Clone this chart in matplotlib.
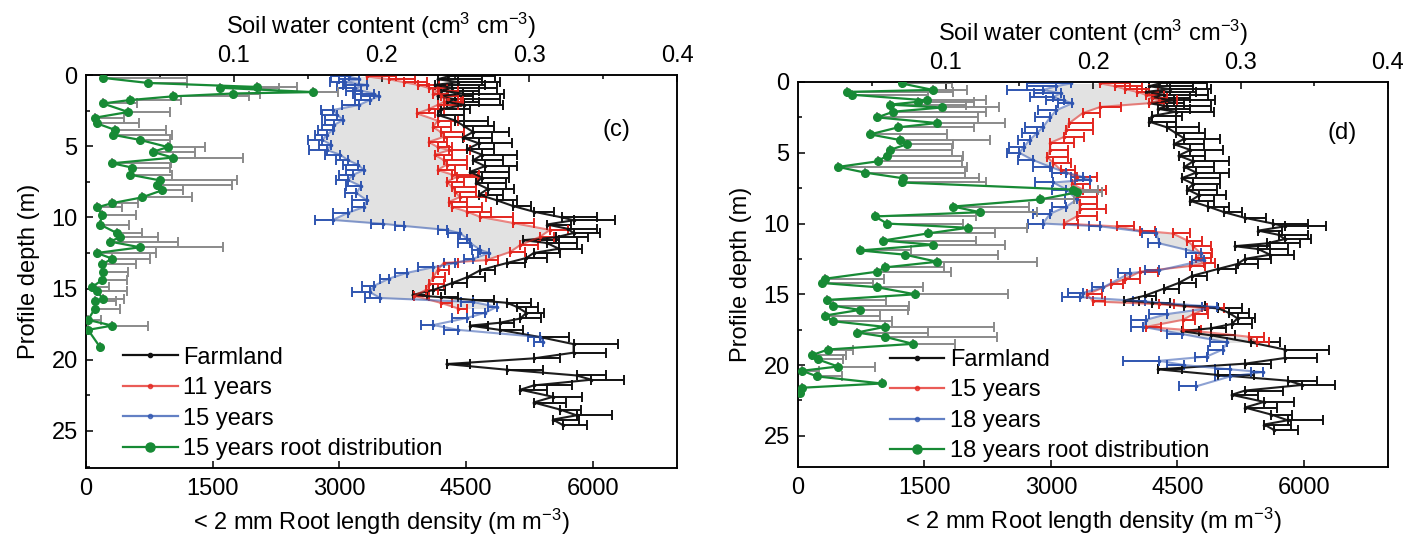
import numpy as np
import matplotlib
matplotlib.use("Agg")
import matplotlib.pyplot as plt
from matplotlib.lines import Line2D
from matplotlib.ticker import MultipleLocator, FixedLocator

plt.rcParams["font.family"] = ["Liberation Sans", "DejaVu Sans"]
plt.rcParams["mathtext.default"] = "regular"
FS = 17

# ---------------- Farmland soil water content (shared by both panels) ----------------
farm_depth = [0.1, 0.3, 0.5, 0.7, 0.9, 1.1, 1.3, 1.5, 1.7, 1.9, 2.1, 2.4,
              2.8, 3.2, 3.6, 4.0, 4.4, 4.8, 5.2, 5.6, 6.0, 6.4, 6.8, 7.2, 7.6, 8.0,
              8.4, 8.8, 9.2, 9.6, 10.0, 10.2, 10.5, 10.8, 11.1, 11.4, 11.6, 11.8, 12.2,
              12.5, 12.85, 13.2, 13.7, 14.2, 14.6, 15.1, 15.45, 15.6, 15.8, 16.0, 16.3,
              16.7, 17.1, 17.4, 17.6, 17.9, 18.4, 18.9, 19.5, 19.9, 20.3, 20.7, 21.1,
              21.4, 21.8, 22.1, 22.6, 23.0, 23.5, 23.9, 24.2, 24.6]
farm_swc = [0.245, 0.238, 0.252, 0.236, 0.248, 0.240, 0.255, 0.238, 0.250, 0.244, 0.256, 0.240,
            0.238, 0.250, 0.256, 0.262, 0.255, 0.266, 0.258, 0.268, 0.262, 0.270, 0.260, 0.268,
            0.264, 0.272, 0.266, 0.278, 0.289, 0.303, 0.322, 0.330, 0.312, 0.326, 0.330, 0.318,
            0.296, 0.312, 0.320, 0.303, 0.298, 0.285, 0.267, 0.258, 0.248, 0.235, 0.221, 0.240,
            0.262, 0.285, 0.292, 0.298, 0.294, 0.280, 0.260, 0.280, 0.307, 0.330, 0.330, 0.303,
            0.244, 0.285, 0.332, 0.342, 0.303, 0.294, 0.316, 0.303, 0.321, 0.332, 0.316, 0.323]
farm_err = [0.032, 0.030, 0.028, 0.034, 0.030, 0.026, 0.028, 0.024, 0.030, 0.022, 0.026, 0.020,
            0.018, 0.022, 0.020, 0.024, 0.020, 0.022, 0.018, 0.024, 0.020, 0.022, 0.026, 0.018,
            0.020, 0.018, 0.016, 0.014, 0.012, 0.014, 0.024, 0.028, 0.016, 0.020, 0.018, 0.022,
            0.024, 0.020, 0.016, 0.018, 0.014, 0.012, 0.010, 0.012, 0.010, 0.008, 0.010, 0.012,
            0.014, 0.016, 0.014, 0.012, 0.014, 0.010, 0.012, 0.016, 0.020, 0.030, 0.022, 0.018,
            0.016, 0.024, 0.020, 0.022, 0.026, 0.018, 0.020, 0.022, 0.014, 0.024, 0.018, 0.016]

# ---------------- Panel (c): 11-year and 15-year stands ----------------
c_red_depth = [0.1, 0.3, 0.5, 0.7, 0.9, 1.1, 1.3, 1.5, 1.7, 1.9, 2.1, 2.4, 2.7, 3.2, 3.65,
               4.0, 4.35, 4.7, 5.06, 5.27, 5.6, 5.97, 6.3, 6.67, 7.0, 7.16, 7.5, 7.87, 8.2,
               8.57, 8.9, 9.27, 9.6, 9.97, 10.39, 10.88, 11.38, 11.94, 12.43, 13.0, 13.2,
               13.7, 14.2, 14.7, 15.1, 15.5, 16.0, 16.4]
c_red_swc = [0.190, 0.205, 0.215, 0.225, 0.232, 0.238, 0.235, 0.240, 0.245, 0.242, 0.238,
             0.232, 0.224, 0.238, 0.235, 0.240, 0.242, 0.232, 0.238, 0.246, 0.236, 0.242,
             0.244, 0.238, 0.248, 0.251, 0.244, 0.248, 0.250, 0.253, 0.246, 0.248, 0.258,
             0.267, 0.289, 0.314, 0.307, 0.294, 0.287, 0.271, 0.242, 0.238, 0.235, 0.232,
             0.230, 0.222, 0.240, 0.252]
c_red_err = [0.020, 0.018, 0.016, 0.014, 0.012, 0.014, 0.010, 0.012, 0.010, 0.012, 0.014,
             0.010, 0.012, 0.014, 0.012, 0.016, 0.014, 0.012, 0.010, 0.014, 0.012, 0.016,
             0.014, 0.012, 0.018, 0.014, 0.012, 0.016, 0.014, 0.018, 0.012, 0.020, 0.016,
             0.022, 0.014, 0.012, 0.010, 0.012, 0.010, 0.008, 0.010, 0.008, 0.008, 0.010,
             0.008, 0.010, 0.008, 0.006]

c_blue_depth = [0.1, 0.3, 0.5, 0.7, 0.9, 1.1, 1.3, 1.5, 1.76, 2.1, 2.46, 2.8, 3.16, 3.5,
                3.86, 4.2, 4.56, 4.9, 5.27, 5.6, 5.97, 6.3, 6.67, 7.0, 7.37, 7.8, 8.29, 8.8,
                9.27, 9.69, 10.18, 10.45, 10.6, 10.88, 11.1, 11.5, 11.8, 12.29, 12.5, 12.9,
                13.2, 13.5, 13.9, 14.3, 14.8, 15.24, 15.66, 15.94, 16.29, 16.7, 17.06,
                17.56, 17.9, 18.4, 18.75]
c_blue_swc = [0.178, 0.185, 0.175, 0.190, 0.182, 0.186, 0.195, 0.198, 0.192, 0.185, 0.167,
              0.170, 0.174, 0.168, 0.167, 0.163, 0.160, 0.166, 0.163, 0.172, 0.177, 0.184,
              0.188, 0.181, 0.177, 0.186, 0.183, 0.190, 0.188, 0.177, 0.167, 0.201, 0.215,
              0.244, 0.253, 0.258, 0.260, 0.267, 0.273, 0.262, 0.250, 0.235, 0.217, 0.205,
              0.195, 0.192, 0.199, 0.262, 0.278, 0.270, 0.258, 0.235, 0.252, 0.307, 0.309]
c_blue_err = [0.012, 0.014, 0.010, 0.016, 0.012, 0.010, 0.014, 0.012, 0.010, 0.012, 0.008,
              0.010, 0.012, 0.008, 0.010, 0.008, 0.010, 0.008, 0.012, 0.010, 0.008, 0.010,
              0.012, 0.010, 0.008, 0.010, 0.008, 0.010, 0.008, 0.010, 0.012, 0.008, 0.006,
              0.006, 0.008, 0.006, 0.008, 0.006, 0.008, 0.006, 0.008, 0.010, 0.008, 0.006,
              0.008, 0.012, 0.010, 0.008, 0.006, 0.008, 0.010, 0.008, 0.010, 0.008, 0.006]

c_root_depth = [0.2, 0.56, 0.84, 0.9, 1.2, 1.3, 1.5, 1.76, 2.0, 2.6, 3.0, 3.4, 3.86, 4.2,
                4.56, 5.06, 5.4, 5.8, 6.2, 6.5, 7.0, 7.4, 7.7, 8.1, 8.6, 9.0, 9.3, 9.8, 10.5,
                11.1, 11.4, 11.7, 12.1, 12.5, 12.9, 13.3, 13.8, 14.4, 14.9, 15.2, 15.7, 15.9,
                16.4, 17.2, 17.6, 17.9, 19.1]
c_root_rld = [200, 735, 2025, 1590, 2690, 1740, 1030, 520, 200, 500, 105, 130, 345, 320,
              640, 970, 790, 1030, 310, 545, 520, 875, 840, 900, 660, 310, 130, 190, 165,
              365, 400, 285, 640, 130, 310, 190, 200, 190, 70, 130, 200, 105, 105, 25, 310,
              25, 165]
c_root_err = [1000, 460, 480, 700, 300, 320, 900, 600, 400, 500, 350, 500, 600, 700, 350,
              440, 500, 830, 700, 450, 500, 910, 890, 250, 600, 300, 300, 400, 350, 300,
              450, 800, 985, 700, 450, 400, 300, 300, 200, 350, 250, 250, 300, 150, 430,
              0, 0]

# ---------------- Panel (d): 15-year and 18-year stands ----------------
d_red_depth = [0.1, 0.3, 0.5, 0.7, 0.9, 1.1, 1.3, 1.5, 1.76, 2.2, 2.9, 3.4, 3.9, 4.3, 4.8,
               5.3, 5.7, 6.2, 6.7, 7.2, 7.6, 8.1, 8.6, 9.0, 9.5, 10.0, 10.2, 10.5, 10.7,
               11.2, 11.6, 12.1, 12.4, 12.8, 13.0, 13.4, 13.9, 14.3, 15.0, 15.5, 15.7, 16.0,
               16.4, 16.8, 17.3, 17.5, 18.0, 18.4]
d_red_swc = [0.205, 0.215, 0.222, 0.230, 0.236, 0.240, 0.245, 0.238, 0.205, 0.193, 0.184,
             0.182, 0.180, 0.171, 0.171, 0.169, 0.173, 0.178, 0.189, 0.186, 0.193, 0.189,
             0.191, 0.191, 0.189, 0.180, 0.216, 0.232, 0.254, 0.264, 0.268, 0.273, 0.270,
             0.275, 0.266, 0.232, 0.222, 0.212, 0.196, 0.200, 0.245, 0.277, 0.268, 0.261,
             0.236, 0.261, 0.306, 0.311]
d_red_err = [0.020, 0.018, 0.016, 0.014, 0.012, 0.010, 0.012, 0.010, 0.014, 0.012, 0.016,
             0.018, 0.014, 0.016, 0.012, 0.014, 0.012, 0.010, 0.014, 0.012, 0.016, 0.014,
             0.012, 0.018, 0.014, 0.010, 0.012, 0.010, 0.012, 0.010, 0.012, 0.008, 0.010,
             0.008, 0.010, 0.012, 0.010, 0.008, 0.010, 0.008, 0.010, 0.012, 0.010, 0.008,
             0.010, 0.012, 0.010, 0.008]

d_blue_depth = [0.1, 0.3, 0.56, 0.8, 1.06, 1.3, 1.5, 2.0, 2.5, 3.2, 3.6, 4.1, 4.6, 5.0, 5.5,
                6.0, 6.4, 6.7, 6.9, 7.1, 7.6, 8.3, 8.8, 9.3, 10.0, 10.2, 10.7, 11.4, 12.1,
                12.6, 13.3, 13.5, 14.5, 14.9, 15.2, 15.5, 15.9, 16.4, 16.8, 17.3, 17.8, 18.4,
                18.9, 19.4, 19.7, 20.0, 20.3, 20.5, 20.8, 21.5]
d_blue_swc = [0.185, 0.175, 0.166, 0.178, 0.173, 0.180, 0.186, 0.175, 0.171, 0.166, 0.162,
              0.157, 0.153, 0.150, 0.159, 0.171, 0.182, 0.193, 0.198, 0.173, 0.182, 0.189,
              0.182, 0.171, 0.166, 0.205, 0.243, 0.245, 0.273, 0.275, 0.245, 0.225, 0.207,
              0.193, 0.191, 0.235, 0.284, 0.250, 0.236, 0.234, 0.260, 0.291, 0.288, 0.277,
              0.245, 0.262, 0.293, 0.315, 0.293, 0.270]
d_blue_err = [0.030, 0.020, 0.024, 0.018, 0.016, 0.012, 0.010, 0.012, 0.010, 0.012, 0.010,
              0.008, 0.010, 0.008, 0.010, 0.012, 0.010, 0.008, 0.010, 0.012, 0.010, 0.008,
              0.010, 0.012, 0.010, 0.008, 0.010, 0.008, 0.010, 0.008, 0.010, 0.008, 0.008,
              0.010, 0.012, 0.008, 0.010, 0.012, 0.010, 0.008, 0.010, 0.012, 0.010, 0.008,
              0.025, 0.012, 0.010, 0.008, 0.010, 0.012]

d_root_depth = [0.1, 0.56, 0.7, 0.9, 1.3, 1.4, 1.6, 1.8, 2.1, 2.5, 2.9, 3.2, 3.7, 4.1, 4.4,
                4.8, 5.2, 5.6, 6.0, 6.4, 6.8, 7.1, 7.6, 7.8, 8.3, 8.8, 9.2, 9.5, 10.0, 10.3,
                10.7, 11.2, 11.5, 11.9, 12.2, 12.7, 13.1, 13.4, 13.9, 14.2, 14.5, 15.0, 15.4,
                15.8, 16.1, 16.5, 16.9, 17.3, 17.7, 18.0, 18.5, 18.9, 19.3, 19.6, 20.1, 20.4,
                20.8, 21.3, 21.6, 22.0]
d_root_rld = [1230, 1600, 580, 640, 1530, 1420, 1090, 1710, 1130, 940, 1650, 1190, 855, 1210,
              1290, 1090, 1055, 950, 475, 795, 1245, 1230, 3260, 3310, 2870, 1840, 2160, 915,
              1055, 2015, 1540, 1010, 1600, 735, 1270, 1650, 1030, 940, 320, 285, 940, 1390,
              345, 415, 735, 320, 415, 1030, 700, 1030, 1365, 355, 165, 235, 475, 50, 225,
              995, 50, 25]
d_root_err = [600, 400, 1260, 900, 700, 670, 900, 670, 1100, 1190, 800, 900, 915, 1070, 545,
              740, 900, 1000, 1530, 1190, 900, 1000, 300, 300, 400, 900, 680, 1200, 900, 700,
              800, 1100, 850, 600, 1100, 1190, 700, 870, 700, 600, 545, 1100, 700, 900, 570,
              650, 700, 1290, 840, 1330, 500, 300, 400, 300, 440, 200, 300, 0, 0, 0]

depth_ticks = [0, 5, 10, 15, 20, 25]
rld_ticks = [0, 1500, 3000, 4500, 6000]
swc_ticks = [0.1, 0.2, 0.3, 0.4]

BLACK = "#111111"
RED = "#e3261f"
BLUE = "#2f55b0"
GREEN = "#178a35"
GREY_BAR = "#8a8a8a"
FILL = "#e2e2e2"

fig = plt.figure(figsize=(14.06, 5.42), dpi=100)


def swc_series(ax, depth, swc, err, color, side, alpha_line):
    depth = np.asarray(depth)
    swc = np.asarray(swc)
    err = np.asarray(err)
    zeros = np.zeros_like(err)
    xerr = [zeros, err] if side == "right" else [err, zeros]
    ax.errorbar(swc, depth, xerr=xerr, fmt="none", ecolor=color, elinewidth=1.4,
                capsize=3.5, capthick=1.4, zorder=3)
    ax.plot(swc, depth, "-", color=color, lw=1.5, alpha=alpha_line, zorder=4)
    ax.plot(swc, depth, "o", color=color, ms=2.6, mec="none", zorder=5)


def panel(rect, ylim_max, red, blue, root, labels, tag, tag_xy, leg_xy):
    ax = fig.add_axes(rect)          # soil water content (top axis)
    ax2 = ax.twiny()                 # root length density (bottom axis)

    ax.set_xlim(0, 0.4)
    ax.set_ylim(ylim_max, 0)
    ax.xaxis.set_ticks_position("top")
    ax.xaxis.set_label_position("top")
    ax.set_xticks(swc_ticks)
    ax.set_xticklabels(["0.1", "0.2", "0.3", "0.4"])
    ax.xaxis.set_minor_locator(FixedLocator([0.05, 0.15, 0.25, 0.35]))
    ax.set_yticks(depth_ticks)
    ax.yaxis.set_minor_locator(MultipleLocator(2.5))
    ax.yaxis.set_ticks_position("left")
    ax.tick_params(axis="both", which="both", direction="in", labelsize=FS,
                   width=1.1, pad=6)
    ax.tick_params(which="major", length=5)
    ax.tick_params(which="minor", length=3)
    ax.set_xlabel(r"Soil water content (cm$^{3}$ cm$^{-3}$)", fontsize=FS, labelpad=8)
    ax.set_ylabel("Profile depth (m)", fontsize=FS, labelpad=8)
    for s in ax.spines.values():
        s.set_linewidth(1.1)

    # shaded area between the two stand ages
    rd, rs, re_ = red
    bd, bs, be = blue
    lo = max(min(rd), min(bd))
    hi = min(max(rd), max(bd))
    grid = np.linspace(lo, hi, 600)
    ax.fill_betweenx(grid, np.interp(grid, bd, bs), np.interp(grid, rd, rs),
                     color=FILL, lw=0, zorder=1)

    swc_series(ax, farm_depth, farm_swc, farm_err, BLACK, "right", 0.95)
    swc_series(ax, rd, rs, re_, RED, "right", 0.55)
    swc_series(ax, bd, bs, be, BLUE, "left", 0.55)

    ax2.set_xlim(0, 7000)
    ax2.set_ylim(ylim_max, 0)
    ax2.xaxis.set_ticks_position("bottom")
    ax2.xaxis.set_label_position("bottom")
    ax2.set_xticks(rld_ticks)
    ax2.tick_params(axis="x", direction="in", labelsize=FS, length=5, width=1.1, pad=7)
    ax2.set_xlabel(r"< 2 mm Root length density (m m$^{-3}$)", fontsize=FS, labelpad=5)
    for s in ax2.spines.values():
        s.set_linewidth(1.1)

    gd, gr, ge = root
    ge = np.asarray(ge)
    ax2.errorbar(gr, gd, xerr=[np.zeros_like(ge), ge], fmt="none", ecolor=GREY_BAR,
                 elinewidth=1.4, capsize=3.5, capthick=1.4, zorder=2)
    ax2.plot(gr, gd, "-", color=GREEN, lw=1.6, zorder=3)
    ax2.plot(gr, gd, "o", color=GREEN, ms=6.5, mec="none", zorder=4)

    handles = [
        Line2D([], [], color=BLACK, lw=1.6, marker="o", ms=3),
        Line2D([], [], color=RED, lw=1.6, alpha=0.75, marker="o", ms=3),
        Line2D([], [], color=BLUE, lw=1.6, alpha=0.75, marker="o", ms=3),
        Line2D([], [], color=GREEN, lw=1.6, marker="o", ms=6.5),
    ]
    ax2.legend(handles, labels, loc="lower left", bbox_to_anchor=leg_xy,
               frameon=False, fontsize=FS, handlelength=2.3, handletextpad=0.25,
               labelspacing=0.36, borderpad=0, borderaxespad=0)
    ax2.text(tag_xy[0], tag_xy[1], tag, transform=ax2.transAxes, fontsize=FS,
             ha="center", va="center")
    return ax, ax2


panel([86 / 1406, 74 / 542, 591 / 1406, 393 / 542], 27.6,
      (c_red_depth, c_red_swc, c_red_err),
      (c_blue_depth, c_blue_swc, c_blue_err),
      (c_root_depth, c_root_rld, c_root_err),
      ["Farmland", "11 years", "15 years", "15 years root distribution"],
      "(c)", (0.898, 0.86), (0.063, 0.02))

panel([798 / 1406, 75 / 542, 590 / 1406, 385 / 542], 27.2,
      (d_red_depth, d_red_swc, d_red_err),
      (d_blue_depth, d_blue_swc, d_blue_err),
      (d_root_depth, d_root_rld, d_root_err),
      ["Farmland", "15 years", "18 years", "18 years root distribution"],
      "(d)", (0.922, 0.868), (0.156, 0.012))

fig.savefig("out.png", dpi=100)
